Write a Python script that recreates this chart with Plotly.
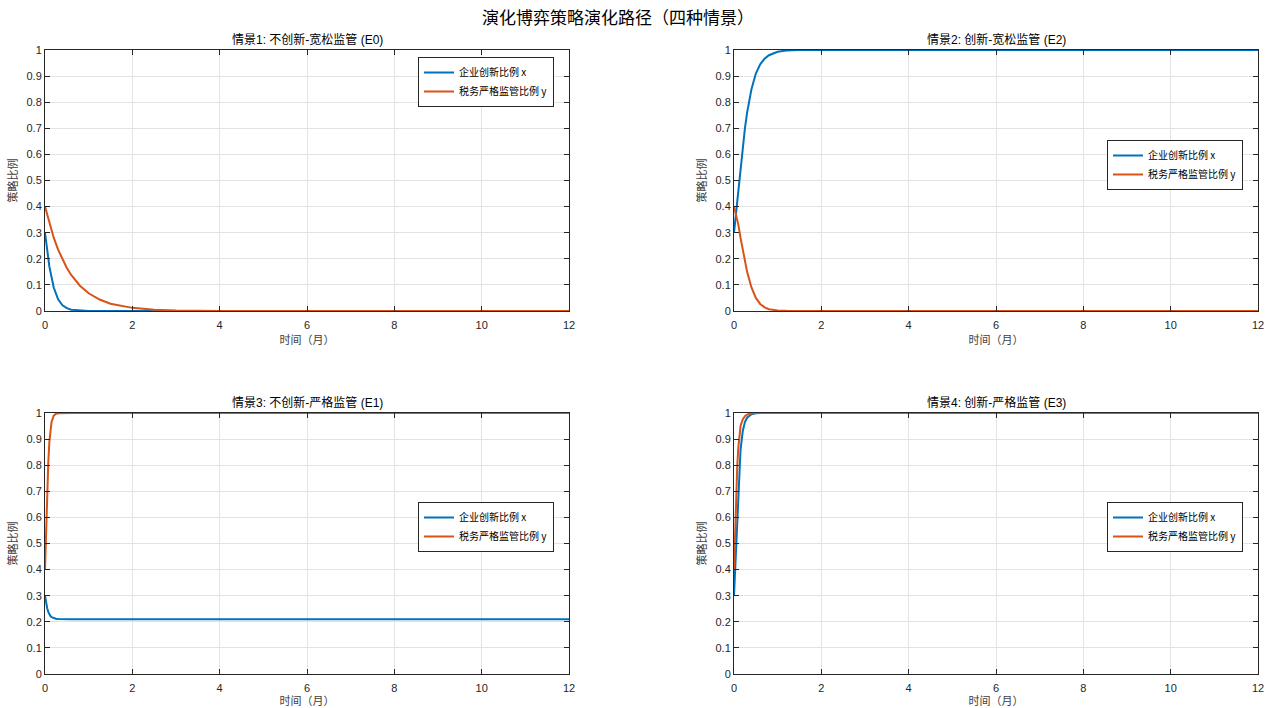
import plotly.graph_objects as go

# ---------------- data ----------------
titles = ["情景1: 不创新-宽松监管 (E0)", "情景2: 创新-宽松监管 (E2)",
          "情景3: 不创新-严格监管 (E1)", "情景4: 创新-严格监管 (E3)"]
name_x = "企业创新比例 x"
name_y = "税务严格监管比例 y"

t1 = [0, 0.1, 0.2, 0.3, 0.4, 0.5, 0.6, 0.8, 1.0, 1.25, 1.5, 2, 2.5, 3, 4, 5, 6, 8, 10, 12]
x1 = [0.3, 0.17, 0.09, 0.045, 0.022, 0.011, 0.005, 0.0015, 0.0004, 0.0001, 0, 0, 0, 0, 0, 0, 0, 0, 0, 0]
y1 = [0.4, 0.336, 0.281, 0.235, 0.197, 0.165, 0.138, 0.097, 0.068, 0.044, 0.028, 0.012, 0.005, 0.002, 0.0003, 0, 0, 0, 0, 0]

t2 = [0, 0.05, 0.1, 0.15, 0.2, 0.25, 0.3, 0.4, 0.5, 0.6, 0.7, 0.8, 1.0, 1.2, 1.5, 2, 3, 4, 6, 8, 10, 12]
x2 = [0.3, 0.38, 0.46, 0.55, 0.63, 0.70, 0.76, 0.85, 0.91, 0.945, 0.967, 0.98, 0.993, 0.998, 1, 1, 1, 1, 1, 1, 1, 1]
y2 = [0.4, 0.37, 0.33, 0.28, 0.235, 0.19, 0.15, 0.09, 0.05, 0.027, 0.014, 0.007, 0.002, 0.0005, 0, 0, 0, 0, 0, 0, 0, 0]

t3 = [0, 0.025, 0.05, 0.075, 0.1, 0.125, 0.15, 0.2, 0.25, 0.3, 0.4, 0.6, 1, 2, 4, 6, 8, 10, 12]
x3 = [0.3, 0.272, 0.252, 0.238, 0.228, 0.222, 0.218, 0.214, 0.212, 0.211, 0.21, 0.21, 0.21, 0.21, 0.21, 0.21, 0.21, 0.21, 0.21]
y3 = [0.4, 0.55, 0.69, 0.81, 0.89, 0.94, 0.966, 0.99, 0.997, 0.999, 1, 1, 1, 1, 1, 1, 1, 1, 1]

t4 = [0, 0.025, 0.05, 0.075, 0.1, 0.125, 0.15, 0.2, 0.25, 0.3, 0.4, 0.5, 0.6, 1, 2, 4, 6, 8, 10, 12]
x4 = [0.3, 0.39, 0.48, 0.6, 0.71, 0.79, 0.86, 0.93, 0.965, 0.982, 0.995, 0.999, 1, 1, 1, 1, 1, 1, 1, 1]
y4 = [0.4, 0.55, 0.68, 0.8, 0.87, 0.92, 0.95, 0.975, 0.988, 0.994, 0.999, 1, 1, 1, 1, 1, 1, 1, 1, 1]

x_ticks = [0, 2, 4, 6, 8, 10, 12]
y_ticks = [0, 0.1, 0.2, 0.3, 0.4, 0.5, 0.6, 0.7, 0.8, 0.9, 1]
y_tick_text = ["0", "0.1", "0.2", "0.3", "0.4", "0.5", "0.6", "0.7", "0.8", "0.9", "1"]

main_title = "演化博弈策略演化路径（四种情景）"
x_label = "时间（月）"
y_label = "策略比例"

# ---------------- figure ----------------
BLUE = "#0072BD"
ORANGE = "#D95319"
AX = "#262626"
GRID = "#e3e3e3"
FONT = "Liberation Sans, Arial, Noto Sans CJK SC, sans-serif"
CJK = "Noto Sans CJK SC, sans-serif"

W, H = 1271, 708
xdom = [[45 / W, 569 / W], [734 / W, 1258 / W]]
ydom = [[1 - 311 / H, 1 - 50 / H], [1 - 674 / H, 1 - 413 / H]]

fig = go.Figure()
data = [(t1, x1, y1), (t2, x2, y2), (t3, x3, y3), (t4, x4, y4)]
legend_pos = [(418, 57), (1107, 140), (418, 502), (1107, 502)]

for i, (t, xs, ys) in enumerate(data):
    r, c = divmod(i, 2)
    sfx = "" if i == 0 else str(i + 1)
    leg = "legend" if i == 0 else f"legend{i + 1}"
    fig.add_trace(go.Scatter(x=t, y=xs, mode="lines", name=name_x,
                             line=dict(color=BLUE, width=2),
                             xaxis="x" + sfx, yaxis="y" + sfx, legend=leg))
    fig.add_trace(go.Scatter(x=t, y=ys, mode="lines", name=name_y,
                             line=dict(color=ORANGE, width=2),
                             xaxis="x" + sfx, yaxis="y" + sfx, legend=leg))
    common = dict(showline=True, linecolor=AX, linewidth=1, mirror="allticks",
                  ticks="inside", ticklen=5, tickcolor=AX, showgrid=True,
                  gridcolor=GRID, gridwidth=1, zeroline=False, automargin=False,
                  tickfont=dict(family=FONT, size=11, color=AX))
    fig.layout["xaxis" + sfx] = dict(domain=xdom[c], range=[0, 12], tickvals=x_ticks,
                                     anchor="y" + sfx, ticklabelstandoff=4,
                                     title=dict(text=x_label, standoff=2,
                                                font=dict(family=CJK, size=11, color="#404040")),
                                     **common)
    fig.layout["yaxis" + sfx] = dict(domain=ydom[r], range=[0, 1], tickvals=y_ticks,
                                     ticktext=y_tick_text, anchor="x" + sfx,
                                     title=dict(text=y_label, standoff=6,
                                                font=dict(family=CJK, size=11, color="#404040")),
                                     **common)
    lx, ly = legend_pos[i]
    fig.layout[leg] = dict(x=lx / W, y=1 - ly / H, xanchor="left", yanchor="top",
                           bgcolor="white", bordercolor=AX, borderwidth=1,
                           font=dict(family=CJK, size=10, color="#000000"),
                           itemwidth=30, tracegroupgap=0)
    # subplot title
    fig.add_annotation(text=titles[i], x=(xdom[c][0] + xdom[c][1]) / 2, y=ydom[r][1],
                       xref="paper", yref="paper", xanchor="center", yanchor="bottom",
                       yshift=1, showarrow=False,
                       font=dict(family="Liberation Sans, Noto Sans CJK SC, sans-serif",
                                 size=12, color="#000000"))

fig.add_annotation(text=main_title, x=618 / W, y=1 - 17 / H, xref="paper", yref="paper",
                   xanchor="center", yanchor="middle", showarrow=False,
                   font=dict(family=CJK, size=17, color="#000000"))

fig.update_layout(width=W, height=H, margin=dict(l=0, r=0, t=0, b=0, autoexpand=False),
                  paper_bgcolor="white", plot_bgcolor="white", showlegend=True)

fig.write_html("out.html", config={"displayModeBar": False},
               post_script="document.body.style.margin='0px';document.body.style.overflow='hidden';")
